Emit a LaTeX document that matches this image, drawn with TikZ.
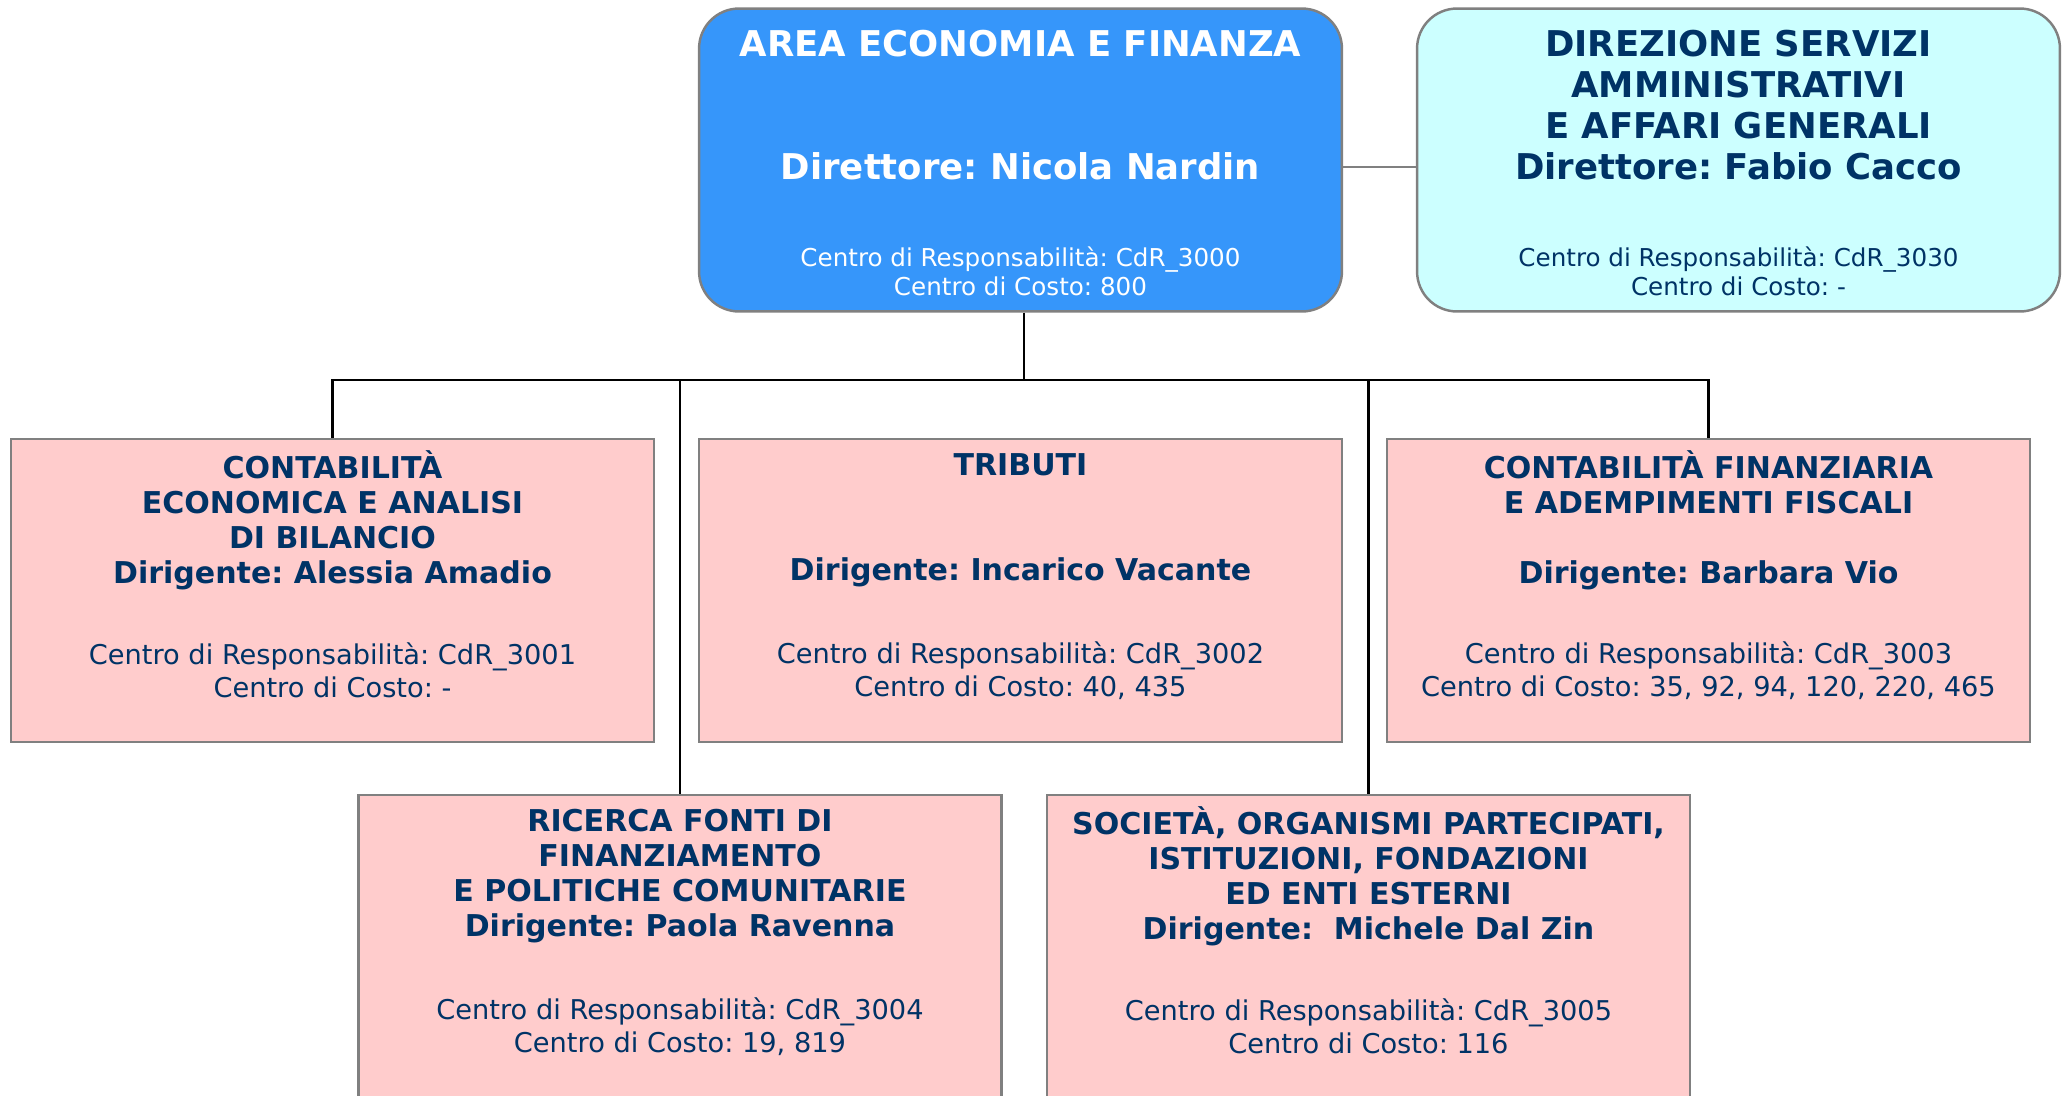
\documentclass[tikz,border=0pt]{standalone}
\usepackage{fontspec}
\setmainfont{DejaVu Sans}
\frenchspacing

\definecolor{areablue}{RGB}{54,150,250}
\definecolor{dircyan}{RGB}{204,255,255}
\definecolor{unitpink}{RGB}{255,204,204}
\definecolor{textblue}{RGB}{0,51,102}
\definecolor{boxgray}{RGB}{128,128,128}

\tikzset{
	box/.style={draw=boxgray, line width=1.4pt, minimum width=12.86cm, minimum height=6.06cm, inner sep=0pt},
	areabox/.style={box, rounded corners=0.8cm, fill=areablue},
	dirbox/.style={box, rounded corners=0.8cm, fill=dircyan},
	unitbox/.style={box, fill=unitpink},
	toptitle/.style={align=center, inner sep=0pt, font=\bfseries\fontsize{20.2}{23.3}\selectfont},
	topinfo/.style={align=center, inner sep=0pt, font=\fontsize{14}{16.5}\selectfont},
	unittitle/.style={align=center, inner sep=0pt, text=textblue, font=\bfseries\fontsize{17.1}{19.9}\selectfont},
	unitinfo/.style={align=center, inner sep=0pt, text=textblue, font=\fontsize{15.5}{18.8}\selectfont},
	link/.style={draw=black, line width=1.3pt}
}

\begin{document}
\begin{tikzpicture}[x=0.02cm, y=-0.02cm]

		\fill[white] (0,0) rectangle (2067,1096);
		\useasboundingbox (0,0) rectangle (2067,1096);

		\node[areabox] (area) at (1020.5,160) {};
		\node[dirbox] (dir) at (1738.5,160) {};

		\node[unitbox] (contec) at (332.5,590.5) {};
		\node[unitbox] (tributi) at (1020.5,590.5) {};
		\node[unitbox] (confin) at (1708.5,590.5) {};
		\node[unitbox] (ricerca) at (680,946.5) {};
		\node[unitbox] (societa) at (1368.5,946.5) {};

		\node[toptitle, text=white] (areaT) at (1020.5,105)%
		{AREA ECONOMIA E FINANZA\\ \strut\\ \strut\\ Direttore: Nicola Nardin};
		\node[topinfo, text=white] (areaI) at (1020.5,271.5)%
		{Centro di Responsabilità: CdR\_3000\\ Centro di Costo: 800};

		\node[toptitle, text=textblue] (dirT) at (1738.5,105)%
		{DIREZIONE SERVIZI\\ AMMINISTRATIVI\\ E AFFARI GENERALI\\ Direttore: Fabio Cacco};
		\node[topinfo, text=textblue] (dirI) at (1738.5,271.5)%
		{Centro di Responsabilità: CdR\_3030\\ Centro di Costo: -};

		\node[unittitle] (contecT) at (332.5,520.5)%
		{CONTABILITÀ\\ ECONOMICA E ANALISI\\ DI BILANCIO\\ Dirigente: Alessia Amadio};
		\node[unitinfo] (contecI) at (332.5,670.5)%
		{Centro di Responsabilità: CdR\_3001\\ Centro di Costo: -};

		\node[unittitle] (tributiT) at (1020.5,520.5)%
		{TRIBUTI\\ \strut\\ \strut\\ Dirigente: Incarico Vacante};
		\node[unitinfo] (tributiI) at (1020.5,670.5)%
		{Centro di Responsabilità: CdR\_3002\\ Centro di Costo: 40, 435};

		\node[unittitle] (confinT) at (1708.5,520.5)%
		{CONTABILITÀ FINANZIARIA\\ E ADEMPIMENTI FISCALI\\ \strut\\ Dirigente: Barbara Vio};
		\node[unitinfo] (confinI) at (1708.5,670.5)%
		{Centro di Responsabilità: CdR\_3003\\ Centro di Costo: 35, 92, 94, 120, 220, 465};

		\node[unittitle] (ricercaT) at (680,876.5)%
		{RICERCA FONTI DI\\ FINANZIAMENTO\\ E POLITICHE COMUNITARIE\\ Dirigente: Paola Ravenna};
		\node[unitinfo] (ricercaI) at (680,1026.5)%
		{Centro di Responsabilità: CdR\_3004\\ Centro di Costo: 19, 819};

		\node[unittitle] (societaT) at (1368.5,876.5)%
		{SOCIETÀ, ORGANISMI PARTECIPATI,\\ ISTITUZIONI, FONDAZIONI\\ ED ENTI ESTERNI\\ Dirigente:~ Michele Dal Zin};
		\node[unitinfo] (societaI) at (1368.5,1026.5)%
		{Centro di Responsabilità: CdR\_3005\\ Centro di Costo: 116};

		\coordinate (bus) at (1024,380);

		\draw[draw=boxgray, line width=0.8pt] ([yshift=-0.14cm]area.east) -- ([yshift=-0.14cm]dir.west);

		\draw[link] (area.south -| bus) -- (bus);
		\draw[link] (contec.north) |- (confin.north |- bus) -- (confin.north);
		\draw[link] (ricerca.north) -- (ricerca.north |- bus);
		\draw[link] (societa.north) -- (societa.north |- bus);
	\end{tikzpicture}
\end{document}
